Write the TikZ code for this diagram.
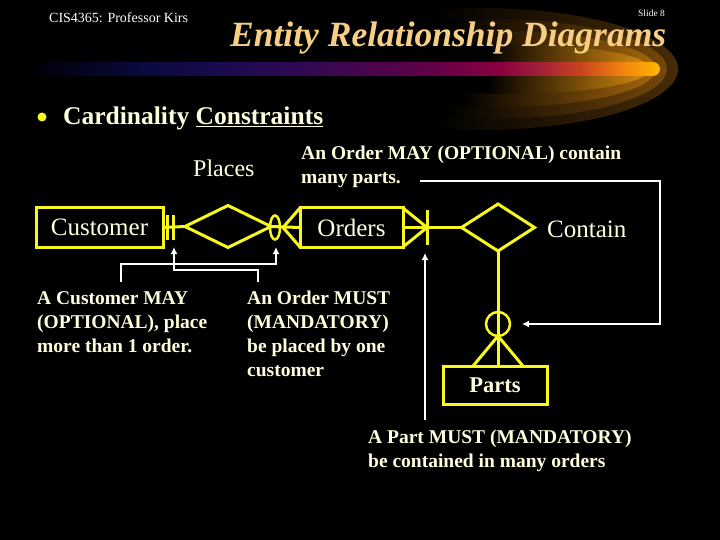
\documentclass[tikz,border=0pt]{standalone}
\usepackage{fontspec}
\setmainfont{Liberation Serif}
\usetikzlibrary{shapes.geometric,arrows.meta,calc}
\definecolor{ylw}{HTML}{F8F81E}
\definecolor{cream}{HTML}{FFFFDD}
\definecolor{ttl}{HTML}{F6CE86}
\pgfdeclarehorizontalshading{barshade}{100bp}{rgb(0bp)=(0,0,0.03); rgb(25bp)=(0,0,0.03); rgb(34bp)=(0.04,0.04,0.25); rgb(42bp)=(0.13,0.04,0.32); rgb(48.6bp)=(0.23,0.03,0.32); rgb(56.6bp)=(0.38,0,0.28); rgb(62.2bp)=(0.54,0,0.25); rgb(65.4bp)=(0.63,0.13,0.22); rgb(68.6bp)=(0.79,0.26,0.12); rgb(71.8bp)=(0.94,0.5,0.06); rgb(75bp)=(1,0.72,0); rgb(100bp)=(1,0.72,0)}
\pgfdeclarehorizontalshading{glowA}{100bp}{rgb(0bp)=(0,0,0); rgb(44bp)=(0,0,0); rgb(75bp)=(0.28,0.17,0.03); rgb(100bp)=(0.28,0.17,0.03)}
\pgfdeclarehorizontalshading{glowB}{100bp}{rgb(0bp)=(0,0,0); rgb(44bp)=(0,0,0); rgb(75bp)=(0.46,0.28,0.04); rgb(100bp)=(0.46,0.28,0.04)}
\pgfdeclarehorizontalshading{glowC}{100bp}{rgb(0bp)=(0,0,0); rgb(44bp)=(0,0,0); rgb(75bp)=(0.65,0.4,0.05); rgb(100bp)=(0.65,0.4,0.05)}
\pgfdeclarehorizontalshading{glowD}{100bp}{rgb(0bp)=(0,0,0); rgb(46bp)=(0,0,0); rgb(75bp)=(0.85,0.55,0.06); rgb(100bp)=(0.85,0.55,0.06)}
\begin{document}
\begin{tikzpicture}[x=1pt,y=-1pt,
  erline/.style={draw=ylw, line width=3pt},
  ent/.style={draw=ylw, line width=3pt, rectangle, inner sep=0, outer sep=0, text=cream, font=\fontsize{25}{30}\selectfont},
  rel/.style={draw=ylw, line width=3pt, diamond, inner sep=0, outer sep=0},
  optmark/.style={draw=ylw, line width=2.5pt, inner sep=0, outer sep=0},
  warrow/.style={draw=white, line width=2.5pt, -{Latex[length=7pt,width=7pt]}},
  note/.style={anchor=base west, inner sep=0, text=cream, font=\fontsize{19.5}{24}\selectfont\bfseries},
  lbl/.style={anchor=base west, inner sep=0, text=cream, font=\fontsize{24}{28}\selectfont}]
\fill[black] (0,0) rectangle (720,540);
\useasboundingbox (0,0) rectangle (720,540);
% glow
\shade[shading=glowA] (480,69) ellipse [x radius=198, y radius=61];
\shade[shading=glowB] (490,69) ellipse [x radius=177, y radius=50];
\shade[shading=glowC] (500,69) ellipse [x radius=156, y radius=38];
\shade[shading=glowD] (510,69) ellipse [x radius=140, y radius=25];
% bar
\shade[shading=barshade] (35,62) -- (653,62) arc[start angle=-90, end angle=90, radius=7] -- (35,76) -- cycle;
% header
\node[anchor=base west, inner sep=0, text=white, font=\fontsize{14}{16}\selectfont] (hdr) at (49,23) {CIS4365: Professor Kirs};
\node[anchor=base west, inner sep=0, text=white, font=\fontsize{9.5}{11}\selectfont] (slide) at (638,17) {Slide 8};
\node[anchor=base west, inner sep=0, text=ttl, font=\fontsize{35.5}{40}\selectfont\bfseries\itshape] (title) at (230,47) {Entity Relationship Diagrams};
% bullet
\node[circle, fill=ylw, minimum size=9, inner sep=0] (bul) at (42,117) {};
\node[anchor=base west, inner sep=0, text=cream, font=\fontsize{25.5}{30}\selectfont\bfseries] (card) at (63,125) {Cardinality \underline{Constraints}};
% entities and relationships
\node[ent, minimum width=127, minimum height=39] (cust) at (99.5,227.5) {Customer};
\node[ent, minimum width=103, minimum height=39] (ord) at (351.5,227.5) {Orders};
\node[ent, minimum width=104, minimum height=38, font=\fontsize{22.5}{26}\selectfont\bfseries] (parts) at (495,385) {Parts};
\node[rel, minimum width=86, minimum height=42] (places) at (228,226.5) {};
\node[rel, minimum width=73, minimum height=47] (cont) at (498,227.5) {};
\node[lbl] (placesl) at (193,177) {Places};
\node[lbl, font=\fontsize{25}{30}\selectfont] (contl) at (547,237) {Contain};
% Customer - Places - Orders
\draw[erline] (cust.east) -- (places.west);
\draw[erline] ($(cust.east)+(4,-12.5)$) -- ($(cust.east)+(4,12.5)$);
\draw[erline] ($(cust.east)+(10,-12.5)$) -- ($(cust.east)+(10,12.5)$);
\draw[erline] (places.east) -- (ord.west);
\node[optmark, ellipse, minimum width=10, minimum height=24] (opt1) at ($(ord.west)+(-25,0)$) {};
\coordinate (cf1) at ($(ord.west)+(-17,0)$);
\draw[erline] (ord.north west) -- (cf1) -- (ord.south west);
% Orders - Contain - Parts
\coordinate (cf2) at ($(ord.east)+(24,0)$);
\draw[erline] (ord.east) -- (cont.west);
\draw[erline] (ord.north east) -- (cf2) -- (ord.south east);
\draw[erline] ($(cf2)+(0,-17)$) -- ($(cf2)+(0,17)$);
\coordinate (pn) at (cont.south |- parts.north);
\draw[erline] (cont.south) -- (pn);
\node[optmark, circle, minimum size=24] (opt2) at ($(pn)+(0,-42)$) {};
\coordinate (cf3) at ($(pn)+(0,-30)$);
\draw[erline] ($(pn)+(-25,0)$) -- (cf3) -- ($(pn)+(25,0)$);
% notes
\node[note] (n1) at (301,160) {\begin{tabular}[t]{@{}l@{}}An Order MAY (OPTIONAL) contain\\many parts.\end{tabular}};
\node[note] (n2) at (37,304) {\begin{tabular}[t]{@{}l@{}}A Customer MAY\\(OPTIONAL), place\\more than 1 order.\end{tabular}};
\node[note] (n3) at (247,304) {\begin{tabular}[t]{@{}l@{}}An Order MUST\\(MANDATORY)\\be placed by one\\customer\end{tabular}};
\node[note] (n4) at (368,443) {\begin{tabular}[t]{@{}l@{}}A Part MUST (MANDATORY)\\be contained in many orders\end{tabular}};
% white annotation connectors
\coordinate (w1s) at (420,181);
\coordinate (w1a) at (660,181);
\coordinate (w1b) at (660,324);
\coordinate (w1e) at ($(opt2.east)+(12,0)$);
\draw[warrow] (w1s) -- (w1a) -- (w1b) -- (w1e);
\coordinate (w2s) at (425,420);
\coordinate (w2e) at (425,253);
\draw[warrow] (w2s) -- (w2e);
\coordinate (w3s) at (121,282);
\coordinate (w3a) at (121,264);
\coordinate (w3b) at (276,264);
\coordinate (w3e) at (276,247);
\draw[warrow] (w3s) -- (w3a) -- (w3b) -- (w3e);
\coordinate (w4s) at (258,282);
\coordinate (w4a) at (258,270);
\coordinate (w4b) at (174,270);
\coordinate (w4e) at (174,247);
\draw[warrow] (w4s) -- (w4a) -- (w4b) -- (w4e);
\end{tikzpicture}
\end{document}
